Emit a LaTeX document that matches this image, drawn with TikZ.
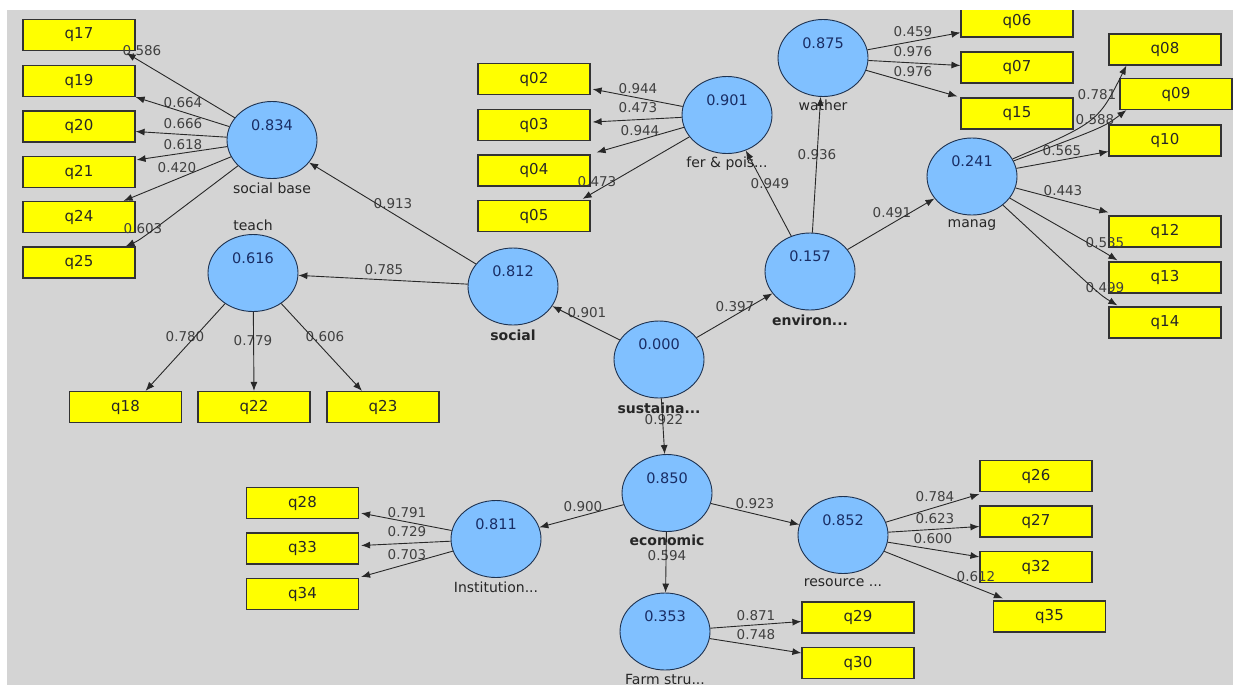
\documentclass[tikz,border=0pt]{standalone}
\usepackage{fontspec}
\setmainfont{DejaVu Sans}
\usetikzlibrary{arrows.meta,shapes.geometric,positioning,calc}

\definecolor{bggray}{RGB}{212,212,212}
\definecolor{latblue}{RGB}{128,192,255}
\definecolor{latline}{RGB}{30,50,80}
\definecolor{numblue}{RGB}{25,45,100}
\definecolor{linegray}{RGB}{40,40,40}
\definecolor{indyellow}{RGB}{255,255,0}

\tikzset{
  latent/.style={ellipse, draw=latline, line width=0.9pt, fill=latblue,
    minimum width=90pt, minimum height=77pt, inner sep=0pt, text depth=30pt,
    text=numblue, font=\fontsize{14.5}{16}\selectfont},
  latname/.style={inner sep=1pt, text=black!85, font=\fontsize{14}{16}\selectfont},
  latbold/.style={latname, font=\fontsize{14}{16}\selectfont\bfseries},
  ind/.style={rectangle, draw=black!80, line width=1.2pt, fill=indyellow,
    minimum width=112pt, minimum height=31pt, inner sep=0pt,
    font=\fontsize{15}{17}\selectfont, text=black!85},
  wt/.style={inner sep=0pt, text=black!75, font=\fontsize{13.5}{15}\selectfont},
  arr/.style={draw=linegray, line width=0.9pt, -{Latex[length=9pt,width=7pt]}}
}

\begin{document}
\begin{tikzpicture}[x=1pt,y=-1pt]
\useasboundingbox (0,0) rectangle (1233,686);
\fill[white] (0,0) rectangle (1233,686);
\fill[bggray] (7,10) rectangle (1233,685);

\begin{scope}
\clip (7,10) rectangle (1233,685);

% indicators
\foreach \n/\x/\y in {q17/79/35, q19/79/81, q20/79/126.5, q21/79/172, q24/79/217, q25/79/262.5,
  q18/125.5/407, q22/254/407, q23/383/407,
  q02/534/79, q03/534/125, q04/534/170.5, q05/534/216,
  q06/1017/21.5, q07/1017/67.5, q15/1017/113.5,
  q08/1165/49.5, q09/1176/94, q10/1165/140.5, q12/1165/231.5, q13/1165/277.5, q14/1165/322.5,
  q28/302.5/503, q33/302.5/548.5, q34/302.5/594,
  q26/1036/476, q27/1036/521.5, q32/1036/567, q35/1049.5/616.5,
  q29/858/617.5, q30/858/663}
  \node[ind] (\n) at (\x,\y) {\n};

% latent variables
\node[latent] (sb) at (272,140) {0.834};
\node[latent] (teach) at (253,273) {0.616};
\node[latent] (soc) at (513,286.5) {0.812};
\node[latent] (sus) at (659,359.5) {0.000};
\node[latent] (env) at (810,271.5) {0.157};
\node[latent] (fer) at (727,115) {0.901};
\node[latent] (wat) at (823,58) {0.875};
\node[latent] (man) at (972,176.5) {0.241};
\node[latent] (eco) at (667,493) {0.850};
\node[latent] (inst) at (496,539) {0.811};
\node[latent] (res) at (843,535) {0.852};
\node[latent] (farm) at (665,631.5) {0.353};

\node[latname, below=3pt of sb] (sbl) {social base};
\node[latname, above=2pt of teach] (teachl) {teach};
\node[latbold, below=3pt of soc] (socl) {social};
\node[latbold, below=3pt of sus] (susl) {sustaina...};
\node[latbold, below=3pt of env] (envl) {environ...};
\node[latname, below=2pt of fer] (ferl) {fer \& pois...};
\node[latname, below=2pt of wat] (watl) {wather};
\node[latname, below=3pt of man] (manl) {manag};
\node[latbold, below=2pt of eco] (ecol) {economic};
\node[latname, below=3pt of inst] (instl) {Institution...};
\node[latname, below=3pt of res] (resl) {resource ...};
\node[latname, below=3pt of farm] (farml) {Farm stru...};

% path weights
\foreach \x/\y/\v [count=\i] in {142/51/0.586, 183/103/0.664, 183/124/0.666, 183/145/0.618,
  177/168/0.420, 143/229/0.603, 393/204/0.913, 384/270/0.785,
  185/337/0.780, 253/341/0.779, 325/337/0.606, 587/313/0.901, 735/307/0.397,
  638/89/0.944, 638/108/0.473, 640/131/0.944, 597/182/0.473,
  770/184/0.949, 817/155/0.936, 913/32/0.459, 913/52/0.976, 913/72/0.976,
  892/213/0.491, 1097/95/0.781, 1095/120/0.588, 1062/151/0.565, 1063/191/0.443,
  1105/243/0.535, 1105/288/0.499, 664/420/0.922, 583/507/0.900, 755/504/0.923,
  407/513/0.791, 407/532/0.729, 407/555/0.703, 667/556/0.594,
  935/497/0.784, 935/519/0.623, 933/539/0.600, 976/577/0.612,
  756/616/0.871, 756/635/0.748}
  \node[wt] (w\i) at (\x,\y) {\v};

% inner model
\draw[arr] (soc) -- (sb);
\draw[arr] (soc) -- (teach);
\draw[arr] (sus) -- (soc);
\draw[arr] (sus) -- (env);
\draw[arr] (env) -- (fer);
\draw[arr] (env) -- (wat);
\draw[arr] (env) -- (man);
\draw[arr] (sus) -- (eco);
\draw[arr] (eco) -- (inst);
\draw[arr] (eco) -- (res);
\draw[arr] (eco) -- (farm);

% outer model
\draw[arr] (sb) -- ($(q17.south east)+(-9,2)$);
\draw[arr] (sb) -- (q19.south east);
\draw[arr] (sb) -- ($(q20.east)+(0,5)$);
\draw[arr] (sb) -- ($(q21.north east)+(1,4)$);
\draw[arr] (sb) -- ($(q24.north east)+(-12,0)$);
\draw[arr] (sb) .. controls (140,240) .. ($(q25.north east)+(-10,0)$);

\draw[arr] (teach) -- ($(q18.north)+(20,0)$);
\draw[arr] (teach) -- (q22.north);
\draw[arr] (teach) -- ($(q23.north)+(-21,0)$);

\draw[arr] (fer) -- ($(q02.south east)+(2,-6)$);
\draw[arr] (fer) -- ($(q03.east)+(2,-3)$);
\draw[arr] (fer) -- ($(q04.north east)+(6,-2)$);
\draw[arr] (fer) -- ($(q05.north east)+(-8,-1)$);

\draw[arr] (wat) -- ($(q06.south west)+(0,-5)$);
\draw[arr] (wat) -- ($(q07.west)+(0,-2)$);
\draw[arr] (wat) -- ($(q15.north west)+(-3,-1)$);

\draw[arr] (man) .. controls (1098,122) .. ($(q08.south west)+(18,0)$);
\draw[arr] (man) .. controls (1104,127) .. ($(q09.south west)+(7,0)$);
\draw[arr] (man) -- ($(q10.west)+(0,11)$);
\draw[arr] (man) -- ($(q12.north west)+(0,-3)$);
\draw[arr] (man) .. controls (1104,252) .. ($(q13.north west)+(9,-1)$);
\draw[arr] (man) .. controls (1100,295) .. ($(q14.north west)+(9,-1)$);

\draw[arr] (inst) -- ($(q28.south east)+(2,-6)$);
\draw[arr] (inst) -- ($(q33.east)+(2,-3)$);
\draw[arr] (inst) -- ($(q34.north east)+(2,-1)$);

\draw[arr] (res) -- ($(q26.south west)+(0,2)$);
\draw[arr] (res) -- ($(q27.west)+(0,5)$);
\draw[arr] (res) -- ($(q32.north west)+(0,6)$);
\draw[arr] (res) -- ($(q35.north west)+(10,-2)$);

\draw[arr] (farm) -- ($(q29.west)+(0,4)$);
\draw[arr] (farm) -- ($(q30.west)+(0,-10)$);
\end{scope}
\end{tikzpicture}
\end{document}
